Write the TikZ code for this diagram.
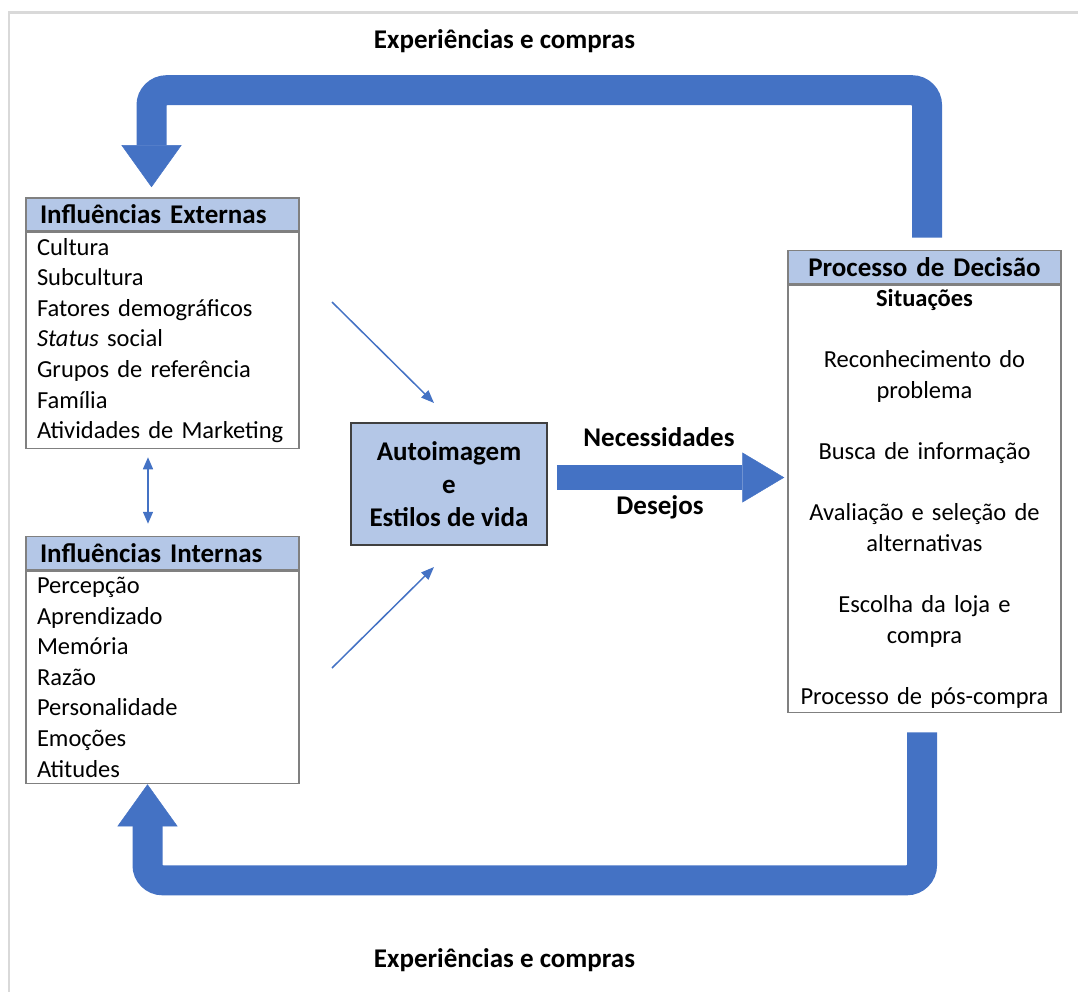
\documentclass[tikz,border=0pt]{standalone}
\usepackage{fontspec}
\setmainfont{Carlito}
\usetikzlibrary{arrows.meta,positioning}
\definecolor{azul}{HTML}{4472C4}
\definecolor{azulclaro}{HTML}{B4C7E7}
\definecolor{borda}{HTML}{808080}
\definecolor{bordaescura}{HTML}{404040}
\definecolor{moldura}{HTML}{D9D9D9}
\tikzset{
  cabecalho/.style={draw=borda, line width=1.5pt, fill=azulclaro, text width=245pt, inner xsep=14pt, inner ysep=0pt,
    minimum height=33pt, align=left, font=\fontsize{27}{33}\selectfont\bfseries},
  lista/.style={draw=borda, line width=1.5pt, text width=251pt, inner xsep=11pt, inner ysep=0pt,
    align=left, font=\fontsize{24.5}{30.6}\selectfont},
  rotulo/.style={font=\fontsize{27}{33}\selectfont\bfseries},
  fina/.style={draw=azul, line width=1.5pt, -{Triangle[length=13pt,width=10pt]}},
  grossa/.style={draw=azul, line width=30pt, rounded corners=15pt, -{Triangle[length=42pt,width=60pt,line width=0.5pt]}}
}
\begin{document}
\begin{tikzpicture}[x=1pt,y=-1pt]
  \useasboundingbox (0,0) rectangle (1078,992);
  \draw[moldura, line width=2.5pt] (9,992) -- (9,12.5) -- (1078,12.5);

  \node[cabecalho] (exthead) at (162.5,214.5) {Influências Externas};
  \node[lista, below=0pt of exthead, minimum height=216pt] (extbody) {Cultura\\Subcultura\\Fatores demográficos\\\textit{Status} social\\Grupos de referência\\Família\\Atividades de Marketing};

  \node[cabecalho] (inthead) at (162.5,553) {Influências Internas};
  \node[lista, below=0pt of inthead, minimum height=212.5pt] (intbody) {Percepção\\Aprendizado\\Memória\\Razão\\Personalidade\\Emoções\\Atitudes};

  \node[cabecalho, text width=263pt, inner xsep=5pt, align=center] (dechead) at (924.5,267) {Processo de Decisão};
  \node[lista, below=0pt of dechead, text width=263pt, inner xsep=5pt, align=center, minimum height=427.5pt] (decbody)
    {\textbf{Situações}\\[30.6pt]Reconhecimento do\\problema\\[30.6pt]Busca de informação\\[30.6pt]Avaliação e seleção de\\alternativas\\[30.6pt]Escolha da loja e\\compra\\[30.6pt]Processo de pós-compra};

  \node[rotulo, draw=bordaescura, line width=1.5pt, fill=azulclaro, minimum width=196pt, minimum height=122pt, align=center] (autoimagem) at (449,484) {Autoimagem\\e\\Estilos de vida};

  \node[rotulo] (necessidades) at (659,437) {Necessidades};
  \node[rotulo] (desejos) at (660,507) {Desejos};
  \node[rotulo] (expcima) at (504.5,41) {Experiências e compras};
  \node[rotulo] (expbaixo) at (504.5,960) {Experiências e compras};

  \coordinate (extsai) at (332,302);
  \coordinate (extchega) at (434,403);
  \coordinate (intsai) at (332,668);
  \coordinate (intchega) at (434,567);
  \draw[fina] (extsai) -- (extchega);
  \draw[fina] (intsai) -- (intchega);
  \draw[fina, {Triangle[length=12pt,width=10pt]}-{Triangle[length=12pt,width=10pt]}, shorten <=8pt, shorten >=12pt]
    ([xshift=-14.5pt]extbody.south) -- ([xshift=-14.5pt]inthead.north);

  \draw[azul, line width=25pt, -{Triangle[length=42pt,width=50pt,line width=0.5pt]}, shorten <=9pt, shorten >=3pt]
    ([yshift=6.5pt]autoimagem.east) -- ([yshift=6.5pt]autoimagem.east -| decbody.west);

  \draw[grossa] ([xshift=2.5pt,yshift=12pt]dechead.north) -- ++(0,-147.5) -| ([xshift=-11pt,yshift=10pt]exthead.north);
  \draw[grossa] ([xshift=-2.5pt,yshift=-19pt]decbody.south) -- ++(0,148) -| ([xshift=-15pt]intbody.south);
\end{tikzpicture}
\end{document}
